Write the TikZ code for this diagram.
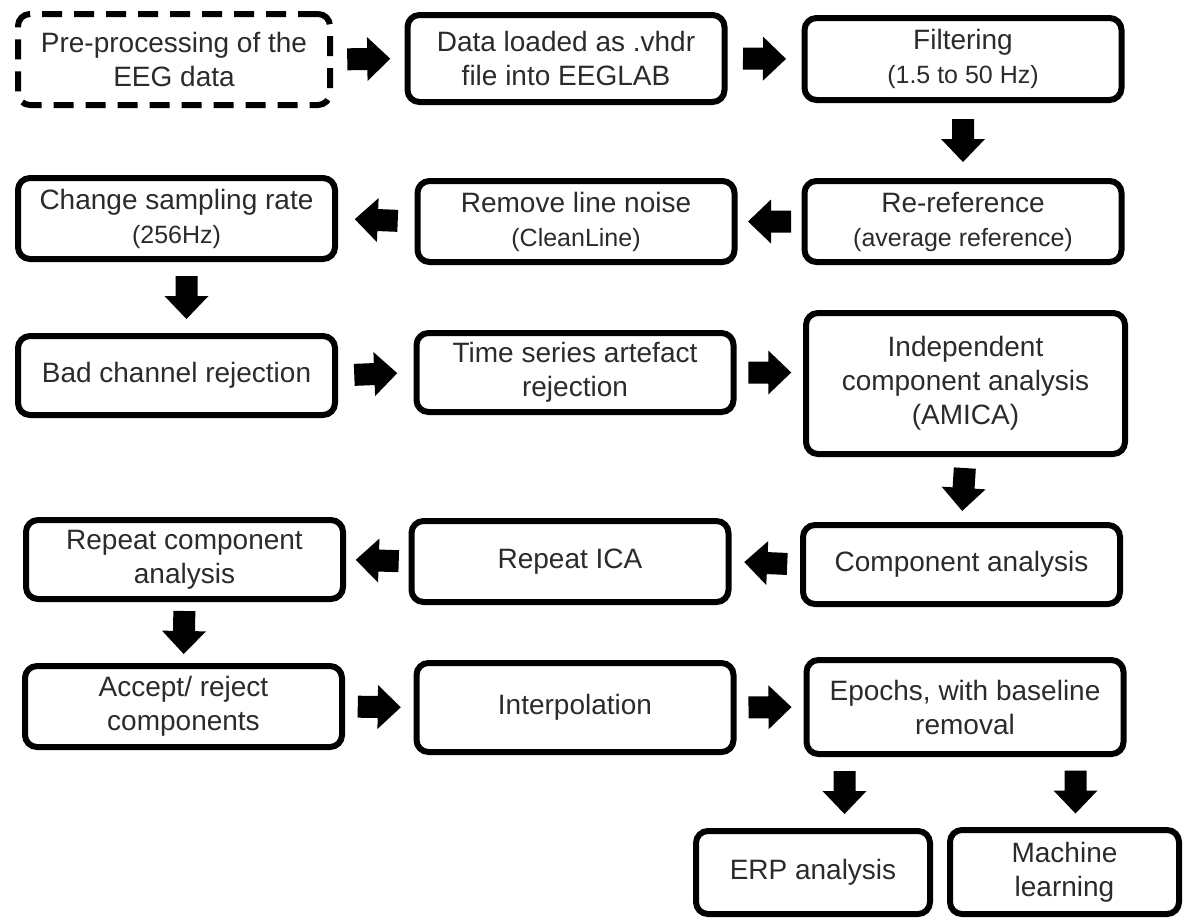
\documentclass[tikz,border=0pt]{standalone}
\usepackage{fontspec}
\setmainfont{Liberation Sans}
\usepackage{tikz}
\usetikzlibrary{calc}
\definecolor{txtgray}{HTML}{2B2B2B}
\tikzset{
  stage/.style={draw, line width=6pt, rounded corners=12pt, align=center, inner sep=0pt,
    text=txtgray, font=\fontsize{28}{34}\selectfont, minimum width=317pt, minimum height=81pt},
  blockarrow/.style={fill=black, draw=none,
    to path={($(\tikztostart)!.5!(\tikztotarget)!21.5pt!(\tikztostart)$) coordinate (ba-s)
      ($(\tikztostart)!.5!(\tikztotarget)!21.5pt!(\tikztotarget)$) coordinate (ba-e)
      ($(ba-e)!23pt!(ba-s)$) coordinate (ba-p)
      ($(ba-s)!11pt!90:(ba-e)$) -- ($(ba-p)!11pt!90:(ba-e)$) -- ($(ba-p)!22pt!90:(ba-e)$) -- (ba-e)
      -- ($(ba-p)!22pt!-90:(ba-e)$) -- ($(ba-p)!11pt!-90:(ba-e)$) -- ($(ba-s)!11pt!-90:(ba-e)$) -- cycle}}
}
\newcommand{\smallline}[1]{{\fontsize{25}{30}\selectfont #1}}
\begin{document}
\begin{tikzpicture}[x=1pt,y=-1pt]
    \useasboundingbox (0,0) rectangle (1183,919);
    % stages
    \node[stage, dash pattern=on 20pt off 12pt, minimum width=312pt, minimum height=91pt] (pre) at (174,59.5) {Pre-processing of the\\EEG data};
    \node[stage, minimum height=87pt] (load) at (566,58.5) {Data loaded as .vhdr\\file into EEGLAB};
    \node[stage, minimum height=82pt] (filt) at (963,59) {Filtering\\\smallline{(1.5 to 50 Hz)}};
    \node[stage] (reref) at (963,221.5) {Re-reference\\\smallline{(average reference)}};
    \node[stage] (noise) at (576,221.5) {Remove line noise\\\smallline{(CleanLine)}};
    \node[stage] (samp) at (176.5,218.5) {Change sampling rate\\\smallline{(256Hz)}};
    \node[stage, minimum height=79pt] (bad) at (176.5,375.5) {Bad channel rejection};
    \node[stage, minimum height=79pt] (tser) at (575,372.5) {Time series artefact\\rejection};
    \node[stage, minimum width=319pt, minimum height=141pt] (ica) at (965.5,383.5) {Independent\\component analysis\\(AMICA)};
    \node[stage, minimum height=79pt] (comp) at (961.5,564.5) {Component analysis};
    \node[stage] (rica) at (570,561.5) {Repeat ICA};
    \node[stage, minimum height=79pt] (rcomp) at (184.5,559.5) {Repeat component\\analysis};
    \node[stage] (accept) at (183.5,706.5) {Accept/ reject\\components};
    \node[stage, minimum height=89pt] (interp) at (575,707.5) {Interpolation};
    \node[stage, minimum height=94pt] (epoch) at (965,707) {Epochs, with baseline\\removal};
    \node[stage, minimum width=234pt, minimum height=83pt] (erp) at (813,872.5) {ERP analysis};
    \node[stage, minimum width=229pt, minimum height=84pt] (ml) at (1064.5,872) {Machine\\learning};
    % arrows
    \coordinate (sb1) at ([xshift=10pt]samp.south);
    \coordinate (sb2) at ([xshift=10pt]bad.north);
    \coordinate (ep1) at ([xshift=41pt]epoch.south west);
    \coordinate (ep2) at ([xshift=-51pt]epoch.south east);
    \fill[blockarrow] (pre.east) to (load.west);
    \fill[blockarrow] (load.east) to (filt.west);
    \fill[blockarrow] (filt.south) to (reref.north);
    \fill[blockarrow] (reref.west) to (noise.east);
    \fill[blockarrow] (noise.west) to (samp.east);
    \fill[blockarrow] (sb1) to (sb2);
    \fill[blockarrow] (bad.east) to (tser.west);
    \fill[blockarrow] (tser.east) to (tser.east -| ica.west);
    \fill[blockarrow] (ica.south) to (comp.north);
    \fill[blockarrow] (comp.west) to (rica.east);
    \fill[blockarrow] (rica.west) to (rcomp.east);
    \fill[blockarrow] (rcomp.south) to (accept.north);
    \fill[blockarrow] (accept.east) to (interp.west);
    \fill[blockarrow] (interp.east) to (epoch.west);
    \fill[blockarrow] (ep1) to (ep1 |- erp.north);
    \fill[blockarrow] (ep2) to (ep2 |- ml.north);
\end{tikzpicture}
\end{document}
